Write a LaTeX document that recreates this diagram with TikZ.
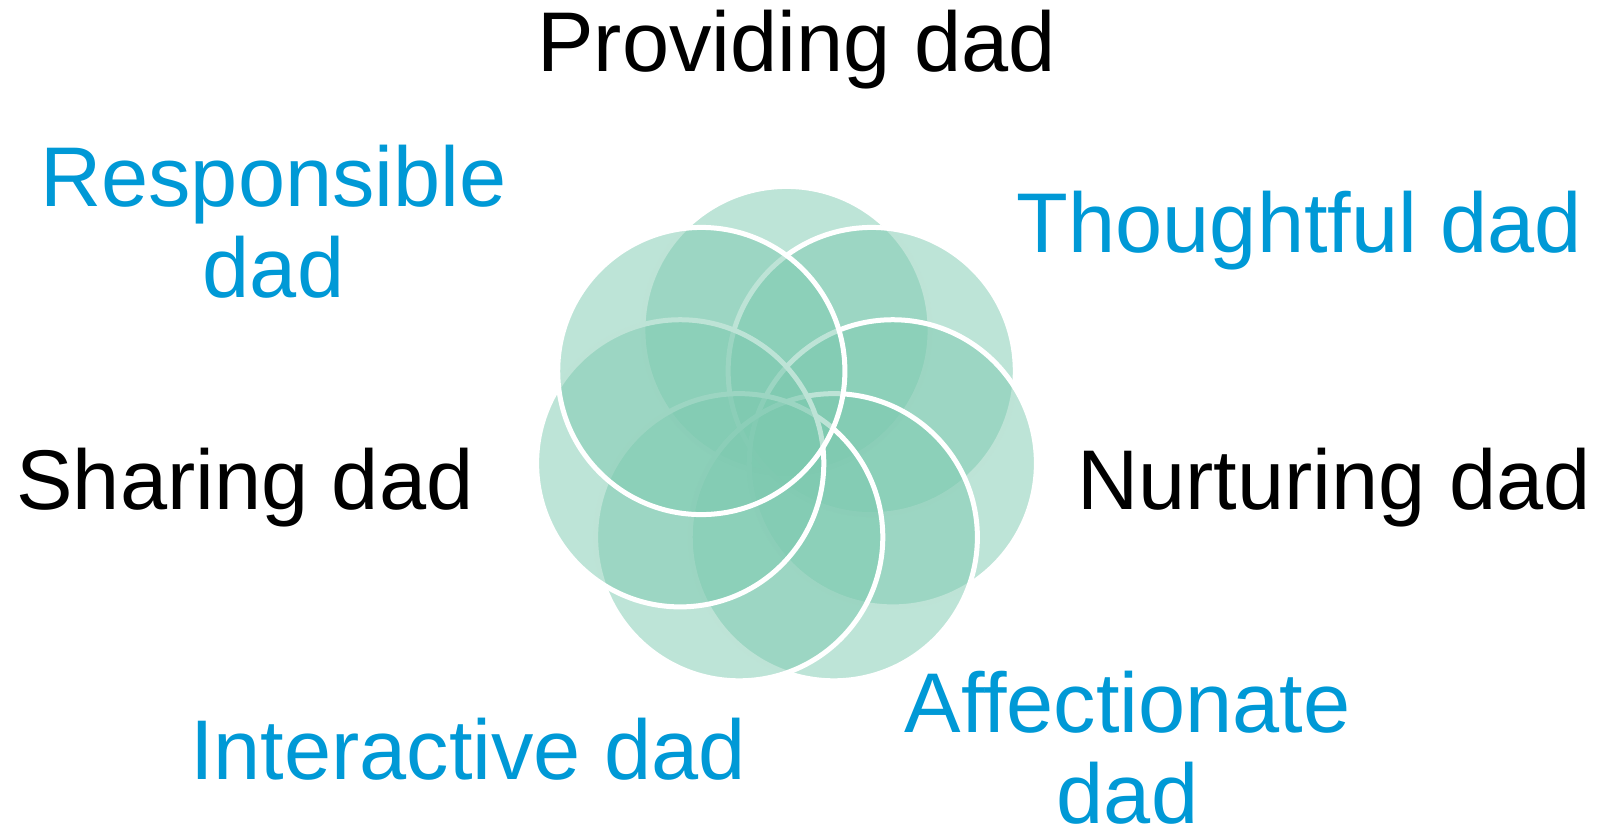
\documentclass[tikz,border=0pt]{standalone}
\usepackage{fontspec}
\setmainfont{Liberation Sans}
\usepackage{xcolor}

\definecolor{petalgreen}{RGB}{124,201,175}
\definecolor{dadblue}{RGB}{0,153,214}

\tikzset{
	petal/.style={circle, minimum size=2.87cm, inner sep=0pt, fill=petalgreen, fill opacity=0.5, draw=white, draw opacity=1, line width=0.05cm},
	lbl/.style={font=\fontsize{24.1}{25.9}\selectfont, inner sep=0pt, anchor=base, align=center},
	blue lbl/.style={lbl, text=dadblue}
}

\begin{document}
\begin{tikzpicture}[x=0.01cm, y=-0.01cm]
	\useasboundingbox (0,0) rectangle (1598,830);

	% the seven circles, drawn clockwise from the top
	\node[petal] (P1) at (786.5,330.0) {};
	\node[petal] (P2) at (871.7,371.0) {};
	\node[petal] (P3) at (892.8,463.3) {};
	\node[petal] (P4) at (833.8,537.2) {};
	\node[petal] (P5) at (739.2,537.2) {};
	\node[petal] (P6) at (680.2,463.3) {};
	\node[petal] (P7) at (701.3,371.0) {};

	% labels (base of a two-line label is its last line)
	\node[lbl] (providing) at (796.5,71) {Providing dad};
	\node[blue lbl] (thoughtful) at (1299.5,252.7) {Thoughtful dad};
	\node[lbl] (nurturing) at (1334,509.6) {Nurturing dad};
	\node[blue lbl] (affectionate) at (1127.5,823.4) {Affectionate\\dad};
	\node[blue lbl] (interactive) at (468,779.6) {Interactive dad};
	\node[lbl] (sharing) at (245,509.6) {Sharing dad};
	\node[blue lbl] (responsible) at (273.5,297.5) {Responsible\\dad};
\end{tikzpicture}
\end{document}
